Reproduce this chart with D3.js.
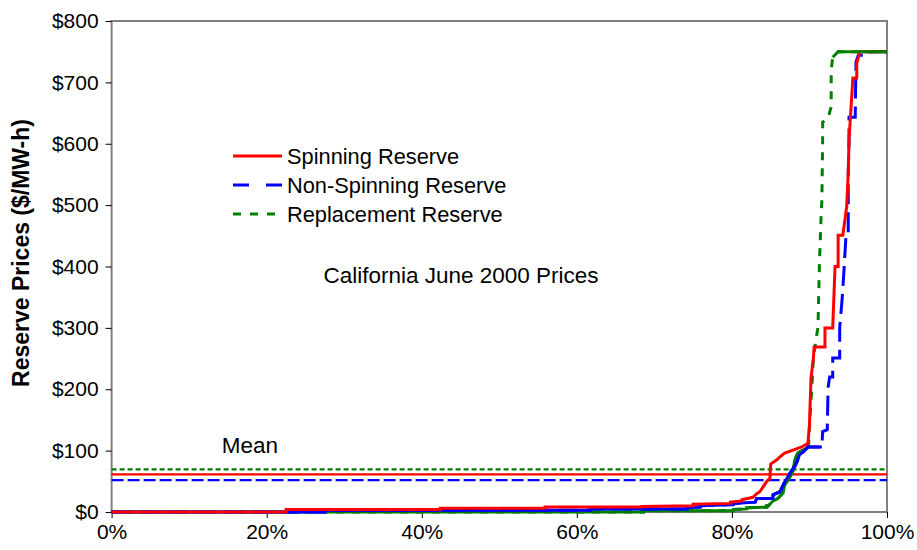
<!DOCTYPE html>
<html><head><meta charset="utf-8">
<script src="https://cdn.jsdelivr.net/npm/d3@7"></script>
<style>body{margin:0;background:#fff}svg{display:block;font-family:Arial,"Liberation Sans",sans-serif}</style>
</head><body><svg id="c" width="917" height="550"></svg>
<script>
const xTicks = [0, 20, 40, 60, 80, 100];
const yTicks = [0, 100, 200, 300, 400, 500, 600, 700, 800];
const seriesNames = ["Spinning Reserve", "Non-Spinning Reserve", "Replacement Reserve"];
const meanValues = [61.4, 52, 69.5];
// [percent of hours, price $/MW-h]
const spinning = [[0,0],[22.5,0],[22.5,4],[42.4,4],[42.4,6],[55.9,6],[55.9,8],[68.4,8],[68.4,9],[75,10],[75,12.5],[79.8,14],[79.8,16],[81.3,18],[81.3,20],[82.7,24],[83.2,30],[83.6,33],[84.5,50],[84.9,55],[85.0,78],[85.8,85],[86.2,90],[86.8,96],[87.7,100],[89.0,106],[89.8,112],[90.0,142],[90.2,218],[90.5,250],[90.6,269],[92.0,269],[92.0,300],[93.0,300],[93.3,400],[93.7,400],[93.7,451],[94.3,451],[94.8,497],[95.0,552],[95.1,606],[95.6,707],[96.1,707],[96.1,731],[96.5,750],[100,750]];
const nonSpinning = [[0,0],[27.5,0],[27.5,3],[61.7,3],[61.7,5],[74.2,5],[74.2,7],[75.9,8],[75.9,10],[80.2,12],[80.2,14],[83.0,16],[83.2,22],[85.3,22],[85.3,28],[86.2,33],[86.8,49],[87.2,57],[87.7,68],[88.1,74],[88.4,82],[88.7,93],[89.2,98],[89.8,106],[91.6,106],[91.7,131],[92.3,134],[92.4,202],[92.6,220],[93.0,220],[93.0,251],[93.9,251],[93.9,301],[94.2,345],[94.4,383],[94.7,448],[95.0,448],[95.0,484],[95.0,552],[95.1,601],[95.1,643],[95.9,643],[96.0,733],[96.3,744],[97.5,744],[97.5,750],[100,750]];
const replacement = [[0,0],[68.6,0],[68.6,2],[80.2,2],[80.2,4],[81.9,5],[81.9,7],[84.5,8],[84.5,10],[84.7,10],[85.2,17],[85.9,22],[86.6,31],[86.8,44],[87.5,57],[87.9,68],[88.1,85],[88.5,96],[89.0,100],[89.7,104],[89.9,112],[90.1,161],[90.3,200],[90.5,251],[90.8,277],[91.1,301],[91.2,357],[91.3,410],[91.5,481],[91.6,508],[91.7,606],[91.7,635],[92.4,642],[92.8,660],[92.8,720],[93.0,741],[93.7,750],[100,750]];

const colors = ["#FF0000", "#0000FF", "#008000"];
const dashes = [null, "20,8", "8,8"];
const meanDashes = [null, "12,4", "5,3"];
const legendDashes = [null, "16,17", "8,9"];
const data = [spinning, nonSpinning, replacement];
const solidBelow = [Infinity, 110, 112];

const svg = d3.select("#c");
const L = 111.6, R = 887, T = 21, B = 512;
const x = d3.scaleLinear().domain([0, 100]).range([L, R]);
const y = d3.scaleLinear().domain([0, 800]).range([B, T]);

// frame
svg.append("rect").attr("x", L).attr("y", T).attr("width", R - L).attr("height", B - T)
  .attr("fill", "none").attr("stroke", "#808080").attr("stroke-width", 2);

// axes
const yAxis = svg.append("g").attr("transform", `translate(${L},0)`)
  .call(d3.axisLeft(y).tickValues(yTicks).tickSize(6).tickPadding(7).tickFormat(d => "$" + d));
const xAxis = svg.append("g").attr("transform", `translate(0,${B})`)
  .call(d3.axisBottom(x).tickValues(xTicks).tickSize(6).tickPadding(6).tickFormat(d => d + "%"));
[yAxis, xAxis].forEach(a => {
  a.select(".domain").remove();
  a.selectAll(".tick line").attr("stroke", "#000");
  a.selectAll(".tick text").attr("font-size", 21).attr("fill", "#000").attr("font-family", "Arial, 'Liberation Sans', sans-serif");
});

// mean lines
const meanOrder = [1, 0, 2];
meanOrder.forEach(i => {
  svg.append("line").attr("x1", x(0)).attr("x2", x(100)).attr("y1", y(meanValues[i])).attr("y2", y(meanValues[i]))
    .attr("stroke", colors[i]).attr("stroke-width", 2.2).attr("stroke-dasharray", meanDashes[i]);
});

// series
const line = d3.line().x(d => x(d[0])).y(d => y(d[1]));
const drawOrder = [2, 1, 0];
drawOrder.forEach(i => {
  svg.append("path").datum(data[i]).attr("d", line).attr("fill", "none")
    .attr("stroke", colors[i]).attr("stroke-width", 3).attr("stroke-dasharray", dashes[i]);
  if (solidBelow[i] !== Infinity) {
    const low = data[i].filter(d => d[1] <= solidBelow[i]);
    svg.append("path").datum(low).attr("d", line).attr("fill", "none")
      .attr("stroke", colors[i]).attr("stroke-width", 3);
  }
});
// top flat of replacement drawn over
svg.append("path").datum(replacement.filter(d => d[1] >= 741)).attr("d", line).attr("fill", "none")
  .attr("stroke", colors[2]).attr("stroke-width", 3);

// legend
const lg = svg.append("g");
seriesNames.forEach((n, i) => {
  const yy = 156 + i * 29;
  lg.append("line").attr("x1", 233).attr("x2", 282).attr("y1", yy).attr("y2", yy)
    .attr("stroke", colors[i]).attr("stroke-width", 3).attr("stroke-dasharray", legendDashes[i]);
  lg.append("text").attr("x", 287).attr("y", yy + 7.5).attr("font-size", 21.8).attr("fill", "#000").text(n);
});

svg.append("text").attr("x", 461).attr("y", 283).attr("text-anchor", "middle").attr("font-size", 22.5).text("California June 2000 Prices");
svg.append("text").attr("x", 250).attr("y", 453).attr("text-anchor", "middle").attr("font-size", 22.5).text("Mean");
svg.append("text").attr("transform", "translate(29,253) rotate(-90)").attr("text-anchor", "middle")
  .attr("font-size", 23).attr("font-weight", "bold").text("Reserve Prices ($/MW-h)");
</script></body></html>
